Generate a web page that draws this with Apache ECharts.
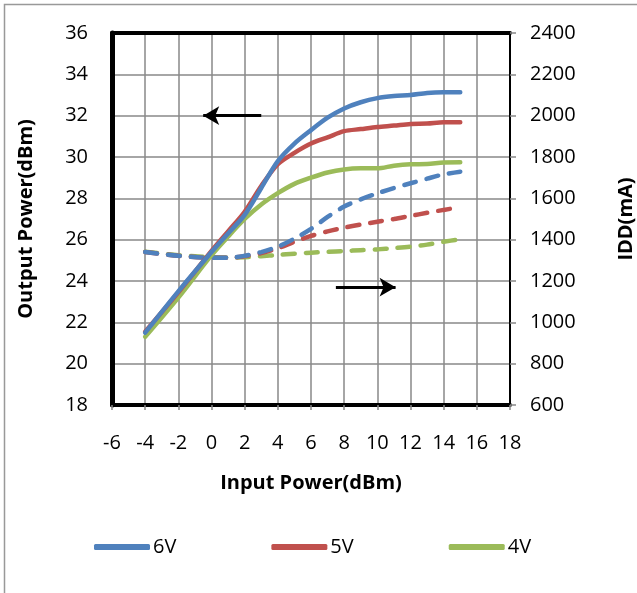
<!DOCTYPE html>
<html>
<head>
<meta charset="utf-8">
<script src="https://cdn.jsdelivr.net/npm/echarts@6/dist/echarts.min.js"></script>
<style>
html,body{margin:0;padding:0;background:#fff;}
#c{width:637px;height:593px;}
</style>
</head>
<body>
<div id="c"></div>
<script>
// Input power (dBm)
const inputPower = [-4, -2, 0, 1, 2, 3, 4, 5, 6, 7, 8, 9, 10, 11, 12, 13, 14, 15];
// Output power (dBm)
const out6V = [21.5, 23.5, 25.4, 26.3, 27.2, 28.5, 29.8, 30.65, 31.3, 31.9, 32.35, 32.65, 32.85, 32.95, 33.0, 33.1, 33.13, 33.13];
const out5V = [21.55, 23.45, 25.45, 26.4, 27.35, 28.6, 29.65, 30.2, 30.65, 30.95, 31.25, 31.35, 31.45, 31.52, 31.6, 31.62, 31.68, 31.68];
const out4V = [21.3, 23.2, 25.25, 26.15, 27.0, 27.7, 28.25, 28.7, 29.0, 29.25, 29.4, 29.45, 29.45, 29.58, 29.65, 29.66, 29.73, 29.74];
// IDD (mA)
const idd6V = [1340, 1322, 1312, 1312, 1322, 1340, 1366, 1405, 1452, 1510, 1560, 1595, 1624, 1650, 1673, 1695, 1716, 1729];
const idd5V = [1340, 1322, 1312, 1312, 1320, 1335, 1358, 1390, 1418, 1440, 1458, 1473, 1487, 1500, 1515, 1530, 1544, 1557];
const idd4V = [1342, 1325, 1315, 1314, 1315, 1320, 1326, 1332, 1337, 1341, 1345, 1349, 1353, 1359, 1366, 1376, 1390, 1402];
const seriesNames = ['6V', '5V', '4V'];
const colors = ['#4F81BD', '#C0504D', '#9BBB59'];
// arrows (data coordinates): left arrow points to left axis, right arrow to right axis
const leftArrow = [[3, 32], [-0.5, 32]];
const rightArrow = [[7.5, 23.7], [11.1, 23.7]];

const pair = (xs, ys) => xs.map((x, i) => [x, ys[i]]);
const font = '"Open Sans", "Noto Sans", sans-serif';

const outs = [out6V, out5V, out4V];
const idds = [idd6V, idd5V, idd4V];
const series = [];
for (let i = 2; i >= 0; i--) {
  series.push({
    name: seriesNames[i], type: 'line', yAxisIndex: 1, xAxisIndex: 0,
    data: pair(inputPower, idds[i]), showSymbol: false, smooth: 0.3,
    lineStyle: { color: colors[i], width: 4.5, type: [12, 11], cap: 'round' },
    itemStyle: { color: colors[i] }, z: 2
  });
}
for (let i = 2; i >= 0; i--) {
  series.push({
    name: seriesNames[i], type: 'line', yAxisIndex: 0, xAxisIndex: 0,
    data: pair(inputPower, outs[i]), showSymbol: false, smooth: 0.3,
    lineStyle: { color: colors[i], width: 4.5, cap: 'round' },
    itemStyle: { color: colors[i] }, z: 3
  });
}
series.push({
  type: 'line', xAxisIndex: 0, yAxisIndex: 0, data: [], silent: true,
  markLine: {
    silent: true, animation: false,
    symbol: ['none', 'arrow'], symbolSize: [14, 16],
    lineStyle: { color: '#000', width: 3, type: 'solid' },
    label: { show: false },
    data: [
      [{ coord: leftArrow[0] }, { coord: leftArrow[1] }],
      [{ coord: rightArrow[0] }, { coord: rightArrow[1] }]
    ]
  }
});

const chart = echarts.init(document.getElementById('c'), null, { renderer: 'canvas' });
chart.setOption({
  animation: false,
  backgroundColor: '#fff',
  color: colors,
  graphic: [{
    type: 'rect', shape: { x: 4.5, y: 4.5, width: 640, height: 600 },
    style: { fill: null, stroke: '#999', lineWidth: 1.5 }, silent: true, z: -10
  }],
  grid: { left: 112, right: 127, top: 33, bottom: 188, containLabel: false, outerBoundsMode: 'none' },
  legend: {
    data: seriesNames, left: 89, top: 532, itemWidth: 56, itemHeight: 6,
    itemGap: 95, icon: 'roundRect',
    textStyle: { fontFamily: font, fontSize: 20, color: '#000', padding: [0, 0, 0, -2] }
  },
  xAxis: [{
    type: 'value', min: -6, max: 18, interval: 2, position: 'bottom',
    name: 'Input Power(dBm)', nameLocation: 'middle', nameGap: 68,
    nameTextStyle: { fontFamily: font, fontSize: 20, fontWeight: 'bold', color: '#000' },
    axisLine: { show: true, onZero: false, lineStyle: { color: '#000', width: 4 } },
    axisTick: { show: true, length: 5, inside: false, lineStyle: { color: '#888', width: 1.5 } },
    axisLabel: { fontFamily: font, fontSize: 20, color: '#000', margin: 28 },
    splitLine: { show: true, lineStyle: { color: '#888', width: 1.5 } }
  }, {
    type: 'value', min: -6, max: 18, interval: 2, position: 'top',
    axisLine: { show: true, onZero: false, lineStyle: { color: '#000', width: 4 } },
    axisTick: { show: false }, axisLabel: { show: false }, splitLine: { show: false }
  }],
  yAxis: [{
    type: 'value', min: 18, max: 36, interval: 2, position: 'left',
    name: 'Output Power(dBm)', nameLocation: 'middle', nameGap: 76, nameRotate: 90,
    nameTextStyle: { fontFamily: font, fontSize: 20, fontWeight: 'bold', color: '#000' },
    axisLine: { show: true, onZero: false, lineStyle: { color: '#000', width: 5 } },
    axisTick: { show: false },
    axisLabel: { fontFamily: font, fontSize: 20, color: '#000', margin: 24 },
    splitLine: { show: true, lineStyle: { color: '#888', width: 1.5 } }
  }, {
    type: 'value', min: 600, max: 2400, interval: 200, position: 'right',
    name: 'IDD(mA)', nameLocation: 'middle', nameGap: 106, nameRotate: 90,
    nameTextStyle: { fontFamily: font, fontSize: 20, fontWeight: 'bold', color: '#000' },
    axisLine: { show: true, onZero: false, lineStyle: { color: '#000', width: 2 } },
    axisTick: { show: true, length: 6, inside: false, lineStyle: { color: '#888', width: 1.5 } },
    axisLabel: { fontFamily: font, fontSize: 20, color: '#000', margin: 20, formatter: v => String(v) },
    splitLine: { show: false }
  }],
  series: series
});
</script>
</body>
</html>
